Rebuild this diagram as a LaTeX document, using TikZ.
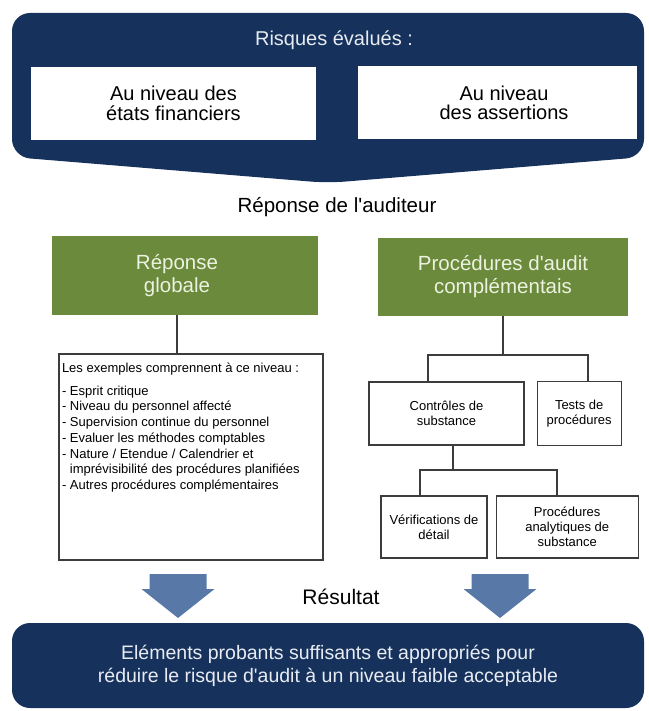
\documentclass[tikz,border=0pt]{standalone}
\usepackage{fontspec}
\setmainfont{Liberation Sans}
\usetikzlibrary{positioning}

\definecolor{navy}{RGB}{22,50,92}
\definecolor{bannertext}{RGB}{232,236,242}
\definecolor{boxgreen}{RGB}{107,138,60}
\definecolor{greentext}{RGB}{236,242,224}
\definecolor{arrowblue}{RGB}{88,121,168}
\definecolor{linegray}{RGB}{60,60,60}

\begin{document}
\begin{tikzpicture}[x=1pt,y=-1pt]
		% styles
		\tikzset{
			riskbox/.style={fill=white, minimum width=285pt, minimum height=73pt, align=center, inner sep=2pt, font=\fontsize{20}{19.5}\selectfont},
			greenbox/.style={fill=boxgreen, text=greentext, minimum height=79pt, align=center, inner sep=2pt, font=\fontsize{20.5}{23}\selectfont},
			smallbox/.style={draw=linegray, line width=1.2pt, fill=white, align=center, inner sep=1pt, font=\fontsize{13}{15}\selectfont},
			listbox/.style={draw=linegray, line width=1.2pt, inner sep=3pt, font=\fontsize{13}{15.7}\selectfont},
			banner/.style={fill=navy, text=bannertext, rounded corners=18pt, align=center},
			downarrow/.style={fill=arrowblue},
			link/.style={draw=linegray, line width=1.2pt}
		}
		\useasboundingbox (0,0) rectangle (648,711);

		% top banner
		\fill[navy, rounded corners=18pt] (12,157) -- (12,13) -- (644,13) -- (644,157) -- (328,183) -- cycle;
		\node[text=bannertext, font=\fontsize{20}{24}\selectfont] (risk) at (334,40) {Risques évalués :};
		\node[riskbox] (etats) at (173.5,103.5) {Au niveau des\\états financiers};
		\node[riskbox, minimum width=279pt] (assert) at (497,103) {\hspace*{14pt}Au niveau\\\hspace*{14pt}des assertions};

		% response
		\node[font=\fontsize{20.5}{24}\selectfont] (rep) at (337,207) {Réponse de l\textquotesingle auditeur};
		\node[greenbox, minimum width=266pt] (glob) at (185,275.5) {Réponse\hspace*{16pt}\\globale\hspace*{16pt}};
		\node[greenbox, minimum width=250pt, minimum height=78pt] (pac) at (503,277) {Procédures d\textquotesingle audit\\complémentais};

		% left branch
		\node[listbox] (ex) at (191,457) {\parbox[t][200pt][t]{258pt}{\vspace*{6pt}Les exemples comprennent à ce niveau :\\[7pt]
			- Esprit critique\\
			- Niveau du personnel affecté\\
			- Supervision continue du personnel\\
			- Evaluer les méthodes comptables\\
			- Nature / Etendue / Calendrier et\\
			\phantom{- }imprévisibilité des procédures planifiées\\
			- Autres procédures complémentaires}};

		% right branch
		\node[smallbox, minimum width=155pt, minimum height=63pt] (ctrl) at (446.5,413.5) {Contrôles de\\substance};
		\node[smallbox, minimum width=84pt, minimum height=64pt, right=12pt of ctrl] (tests) {Tests de\\procédures};
		\node[smallbox, minimum width=106pt, minimum height=62pt] (verif) at (434,527) {Vérifications de\\détail};
		\node[smallbox, minimum width=142pt, minimum height=62pt, right=8pt of verif] (anal) {Procédures\\analytiques de\\substance};

		% result
		\coordinate (arrL) at (178,574);
		\coordinate (arrR) at (500,574);
		\fill[downarrow] (arrL) ++(-28.5,0) -- ++(57,0) -- ++(0,15) -- ++(8,0) -- ++(-36.5,29) -- ++(-36.5,-29) -- ++(8,0) -- cycle;
		\fill[downarrow] (arrR) ++(-28.5,0) -- ++(57,0) -- ++(0,15) -- ++(8,0) -- ++(-36.5,29) -- ++(-36.5,-29) -- ++(8,0) -- cycle;
		\node[font=\fontsize{21}{24}\selectfont] (res) at (341,597) {Résultat};
		\node[banner, minimum width=632pt, minimum height=85pt, font=\fontsize{19.5}{23}\selectfont] (elem) at (328,665.5) {Eléments probants suffisants et appropriés pour\\réduire le risque d\textquotesingle audit à un niveau faible acceptable};

		% connections
		\coordinate (lhook) at (177,315);
		\coordinate (sa) at (428,355);
		\coordinate (sb) at (588,355);
		\coordinate (chook) at (453,445);
		\coordinate (sc) at (420,470);
		\coordinate (sd) at (557,470);
		\draw[link] (lhook) -- (lhook |- ex.north);
		\draw[link] (pac.south) -- (pac.south |- sa);
		\draw[link] (sa |- ctrl.north) -- (sa) -- (sb) -- (sb |- tests.north);
		\draw[link] (chook) -- (chook |- sc);
		\draw[link] (sc |- verif.north) -- (sc) -- (sd) -- (sd |- anal.north);

\end{tikzpicture}
\end{document}
